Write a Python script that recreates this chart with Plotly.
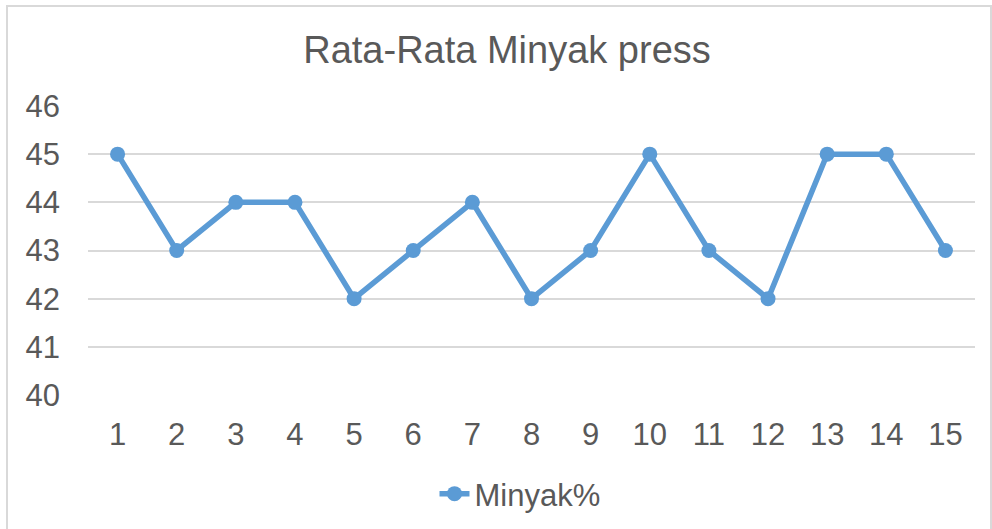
import plotly.graph_objects as go

categories = [str(i) for i in range(1, 16)]
minyak = [45, 43, 44, 44, 42, 43, 44, 42, 43, 45, 43, 42, 45, 45, 43]
series_name = "Minyak%"
title_text = "Rata-Rata Minyak press"
y_ticks = [40, 41, 42, 43, 44, 45, 46]

W, H = 992, 529
L, R, T, B = 88, 17, 106, 134
pw, ph = W - L - R, H - T - B

fig = go.Figure()
fig.add_trace(go.Scatter(
    x=categories, y=minyak, mode="lines+markers", name=series_name,
    line=dict(color="#5B9BD5", width=5.5),
    marker=dict(color="#5B9BD5", size=15),
))

font = "Liberation Sans, Arial, sans-serif"
fig.update_layout(
    width=W, height=H,
    margin=dict(l=L, r=R, t=T, b=B, autoexpand=False),
    paper_bgcolor="white", plot_bgcolor="white",
    font=dict(family=font, color="#595959", size=31),
    title=dict(text=title_text, x=507 / W, xanchor="center", y=1 - 50 / H, yanchor="middle",
               font=dict(size=38, color="#595959")),
    xaxis=dict(type="category", range=[-0.5, 14.5], showgrid=False, showline=False,
               zeroline=False, ticks="", tickfont=dict(size=31), ticklabelstandoff=18),
    yaxis=dict(range=[40, 46], tickvals=y_ticks, showgrid=True, gridcolor="#D9D9D9",
               gridwidth=1.5, zeroline=False, showline=False, ticks="",
               tickfont=dict(size=31), ticklabelstandoff=27),
    showlegend=True,
    legend=dict(orientation="h", x=(520 - L) / pw, xanchor="center", y=(395 - 494) / ph,
                yanchor="middle", font=dict(size=31)),
    shapes=[dict(type="rect", xref="paper", yref="paper",
                 x0=(7 - L) / pw, x1=(991 - L) / pw,
                 y0=(395 - 540) / ph, y1=1 + (T - 6) / ph,
                 line=dict(color="#D9D9D9", width=2), layer="below")],
)

fig.write_html("out.html", config={"displayModeBar": False},
               post_script="document.body.style.margin='0px';")
